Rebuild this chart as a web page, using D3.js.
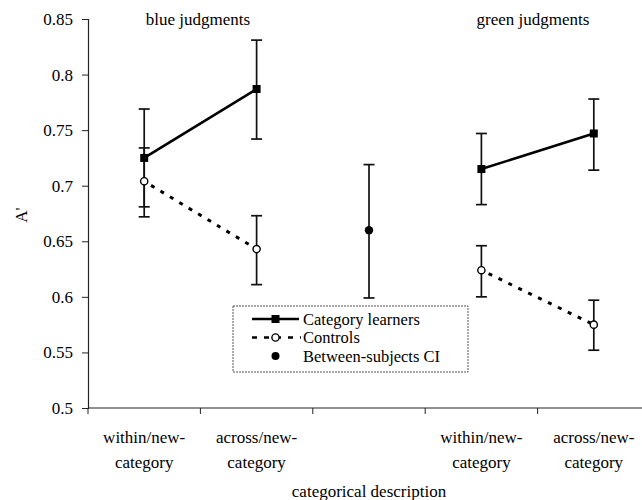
<!DOCTYPE html>
<html>
<head>
<meta charset="utf-8">
<script src="https://cdn.jsdelivr.net/npm/d3@7"></script>
<style>
  body { margin: 0; background: #fff; }
  svg { font-family: "Liberation Serif", "Times New Roman", serif; }
  text { fill: #000; }
</style>
</head>
<body>
<svg width="642" height="500"></svg>
<script>
// positions along the x axis (middle slot holds the between-subjects CI)
const slots = ["bw", "ba", "ci", "gw", "ga"];
const slotLabels = [["within/new-", "category"], ["across/new-", "category"], ["", ""], ["within/new-", "category"], ["across/new-", "category"]];
const yTicks = [0.5, 0.55, 0.6, 0.65, 0.7, 0.75, 0.8, 0.85];

// Category learners: mean, low, high
const learnerSlots = ["bw", "ba", "gw", "ga"];
const learnerMean = [0.725, 0.787, 0.715, 0.747];
const learnerLow = [0.681, 0.742, 0.683, 0.714];
const learnerHigh = [0.769, 0.831, 0.747, 0.778];

// Controls
const controlSlots = ["bw", "ba", "gw", "ga"];
const controlMean = [0.704, 0.643, 0.624, 0.575];
const controlLow = [0.672, 0.611, 0.600, 0.552];
const controlHigh = [0.734, 0.673, 0.646, 0.597];

// Between-subjects CI
const ciMean = [0.660];
const ciLow = [0.599];
const ciHigh = [0.719];

const FS = 17;
const svg = d3.select("svg");

const x = d3.scaleBand()
    .domain(slots)
    .range([88, 650]);

const y = d3.scaleLinear()
    .domain([0.5, 0.85])
    .range([408, 19]);

const cx = s => x(s) + x.bandwidth() / 2;

// y axis
const yAxis = svg.append("g")
    .attr("transform", "translate(88,0)")
    .call(d3.axisLeft(y).tickValues(yTicks).tickFormat(d => d3.format("")(+d.toFixed(2))).tickSize(6).tickPadding(9));
yAxis.select(".domain").attr("stroke", "#222").attr("stroke-width", 1.2);
yAxis.selectAll(".tick line").attr("stroke", "#222");
yAxis.selectAll("text").attr("font-size", FS).attr("fill", "#000")
    .attr("font-family", "Liberation Serif, Times New Roman, serif");

// x axis with ticks at band edges
const xAxis = svg.append("g").attr("transform", "translate(0,408)");
xAxis.append("line")
    .attr("x1", 88).attr("x2", 650)
    .attr("stroke", "#222").attr("stroke-width", 1.2);
xAxis.selectAll(".edge")
    .data(slots)
    .enter()
    .append("line")
    .attr("class", "edge")
    .attr("x1", d => x(d)).attr("x2", d => x(d))
    .attr("y1", 0).attr("y2", 6)
    .attr("stroke", "#222");

slots.forEach((s, i) => {
    const t = svg.append("text")
        .attr("x", cx(s))
        .attr("text-anchor", "middle")
        .attr("font-size", FS);
    t.append("tspan").attr("x", cx(s)).attr("y", 443).text(slotLabels[i][0]);
    t.append("tspan").attr("x", cx(s)).attr("y", 468).text(slotLabels[i][1]);
});

svg.append("text")
    .attr("x", (88 + 650) / 2)
    .attr("y", 497)
    .attr("text-anchor", "middle")
    .attr("font-size", FS)
    .text("categorical description");

svg.append("text")
    .attr("transform", "translate(27,215) rotate(-90)")
    .attr("text-anchor", "middle")
    .attr("font-size", FS)
    .attr("fill", "#000")
    .text("A'");

// panel titles
svg.append("text")
    .attr("x", 198).attr("y", 25)
    .attr("text-anchor", "middle")
    .attr("font-size", FS)
    .text("blue judgments");
svg.append("text")
    .attr("x", 533).attr("y", 25)
    .attr("text-anchor", "middle")
    .attr("font-size", FS)
    .text("green judgments");

function errorBars(slotArr, low, high, cls) {
    const g = svg.append("g").attr("class", cls);
    const idx = d3.range(slotArr.length);
    g.selectAll(".stem").data(idx).enter().append("line")
        .attr("x1", i => cx(slotArr[i])).attr("x2", i => cx(slotArr[i]))
        .attr("y1", i => y(low[i])).attr("y2", i => y(high[i]))
        .attr("stroke", "#111").attr("stroke-width", 1.7);
    [low, high].forEach(arr => {
        g.selectAll(".cap" + (arr === low ? "l" : "h")).data(idx).enter().append("line")
            .attr("x1", i => cx(slotArr[i]) - 5.5).attr("x2", i => cx(slotArr[i]) + 5.5)
            .attr("y1", i => y(arr[i])).attr("y2", i => y(arr[i]))
            .attr("stroke", "#111").attr("stroke-width", 1.7);
    });
}

errorBars(learnerSlots, learnerLow, learnerHigh, "learner-err");
errorBars(controlSlots, controlLow, controlHigh, "control-err");
errorBars(["ci"], ciLow, ciHigh, "ci-err");

const line = d3.line().x(d => cx(d[0])).y(d => y(d[1]));

// lines drawn within each judgment panel
[[0, 1], [2, 3]].forEach(pair => {
    svg.append("path")
        .datum(pair.map(i => [learnerSlots[i], learnerMean[i]]))
        .attr("d", line)
        .attr("fill", "none")
        .attr("stroke", "#000")
        .attr("stroke-width", 2.6);
    svg.append("path")
        .datum(pair.map(i => [controlSlots[i], controlMean[i]]))
        .attr("d", line)
        .attr("fill", "none")
        .attr("stroke", "#000")
        .attr("stroke-width", 3)
        .attr("stroke-dasharray", "4,7")
        .attr("stroke-dashoffset", -8);
});

svg.selectAll(".learner-pt")
    .data(learnerMean)
    .enter()
    .append("rect")
    .attr("class", "learner-pt")
    .attr("x", (d, i) => cx(learnerSlots[i]) - 4)
    .attr("y", d => y(d) - 4)
    .attr("width", 8).attr("height", 8)
    .attr("fill", "#000");

svg.selectAll(".control-pt")
    .data(controlMean)
    .enter()
    .append("circle")
    .attr("class", "control-pt")
    .attr("cx", (d, i) => cx(controlSlots[i]))
    .attr("cy", d => y(d))
    .attr("r", 3.6)
    .attr("fill", "#fff")
    .attr("stroke", "#000")
    .attr("stroke-width", 1.4);

svg.selectAll(".ci-pt")
    .data(ciMean)
    .enter()
    .append("circle")
    .attr("class", "ci-pt")
    .attr("cx", cx("ci"))
    .attr("cy", d => y(d))
    .attr("r", 4.2)
    .attr("fill", "#000");

// legend
const lg = svg.append("g").attr("transform", "translate(233,306)");
lg.append("rect")
    .attr("width", 235).attr("height", 66)
    .attr("fill", "#fff")
    .attr("stroke", "#555")
    .attr("stroke-width", 1)
    .attr("stroke-dasharray", "2,1");

const legendItems = ["Category learners", "Controls", "Between-subjects CI"];
const rows = [13, 31.5, 50];
lg.append("line").attr("x1", 19).attr("x2", 66).attr("y1", rows[0]).attr("y2", rows[0])
    .attr("stroke", "#000").attr("stroke-width", 2.4);
lg.append("rect").attr("x", 38.5).attr("y", rows[0] - 4).attr("width", 8).attr("height", 8).attr("fill", "#000");
lg.append("line").attr("x1", 19).attr("x2", 68).attr("y1", rows[1]).attr("y2", rows[1])
    .attr("stroke", "#000").attr("stroke-width", 2.4).attr("stroke-dasharray", "5,7");
lg.append("circle").attr("cx", 42.5).attr("cy", rows[1]).attr("r", 3.6)
    .attr("fill", "#fff").attr("stroke", "#000").attr("stroke-width", 1.4);
lg.append("circle").attr("cx", 42.5).attr("cy", rows[2]).attr("r", 4).attr("fill", "#000");

lg.selectAll(".lt")
    .data(legendItems)
    .enter()
    .append("text")
    .attr("class", "lt")
    .attr("x", 70)
    .attr("y", (d, i) => rows[i] + 5.5)
    .attr("font-size", 16.5)
    .text(d => d);
</script>
</body>
</html>
